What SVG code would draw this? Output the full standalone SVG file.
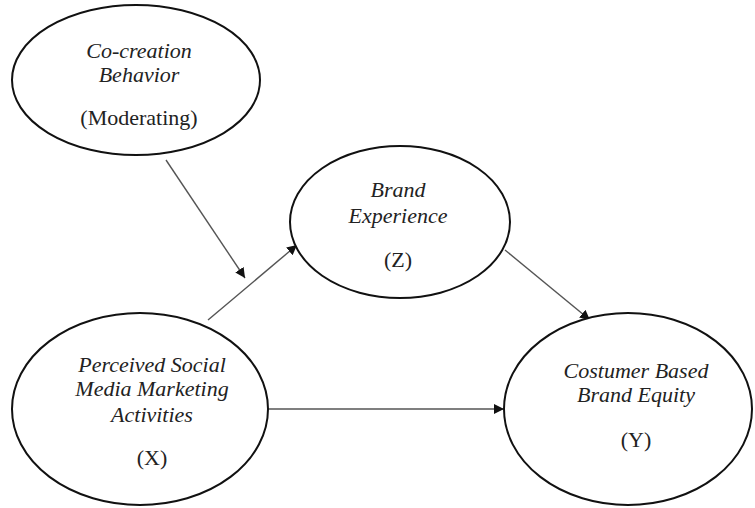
<svg xmlns="http://www.w3.org/2000/svg" width="755" height="508" viewBox="0 0 755 508">
  <style>
    .node { fill: #ffffff; stroke: #111111; stroke-width: 2; }
    .lbl { font-family: "Liberation Serif", "Times New Roman", serif; font-size: 22px; fill: #222222; text-anchor: middle; }
    .it { font-style: italic; }
    .edge { stroke: #555555; stroke-width: 1.4; fill: none; marker-end: url(#head); }
  </style>
  <defs>
    <marker id="head" viewBox="0 0 10 10" refX="10" refY="5" markerWidth="10" markerHeight="10" markerUnits="userSpaceOnUse" orient="auto">
      <path d="M0,0 L10,5 L0,10 z" fill="#111111"/>
    </marker>
  </defs>
  <rect width="755" height="508" fill="#ffffff"/>

  <g id="connectors">
    <line class="edge" x1="166" y1="160" x2="245" y2="278"/>
    <line class="edge" x1="208" y1="320" x2="297" y2="245"/>
    <line class="edge" x1="505" y1="250" x2="590" y2="320"/>
    <line class="edge" x1="268" y1="409" x2="504" y2="409"/>
  </g>

  <g id="co-creation">
    <ellipse class="node" cx="136" cy="80" rx="124" ry="75"/>
    <text class="lbl it" x="139" y="58">Co-creation</text>
    <text class="lbl it" x="139" y="82">Behavior</text>
    <text class="lbl" x="139" y="125">(Moderating)</text>
  </g>

  <g id="brand-experience">
    <ellipse class="node" cx="400" cy="222" rx="110" ry="76"/>
    <text class="lbl it" x="398" y="197">Brand</text>
    <text class="lbl it" x="398" y="223">Experience</text>
    <text class="lbl" x="398" y="267">(Z)</text>
  </g>

  <g id="social-media">
    <ellipse class="node" cx="140" cy="409" rx="128" ry="96"/>
    <text class="lbl it" x="152" y="372">Perceived Social</text>
    <text class="lbl it" x="152" y="396">Media Marketing</text>
    <text class="lbl it" x="152" y="422">Activities</text>
    <text class="lbl" x="152" y="465">(X)</text>
  </g>

  <g id="brand-equity">
    <ellipse class="node" cx="628" cy="409" rx="124" ry="96"/>
    <text class="lbl it" x="636" y="378">Costumer Based</text>
    <text class="lbl it" x="636" y="402">Brand Equity</text>
    <text class="lbl" x="636" y="447">(Y)</text>
  </g>
</svg>
